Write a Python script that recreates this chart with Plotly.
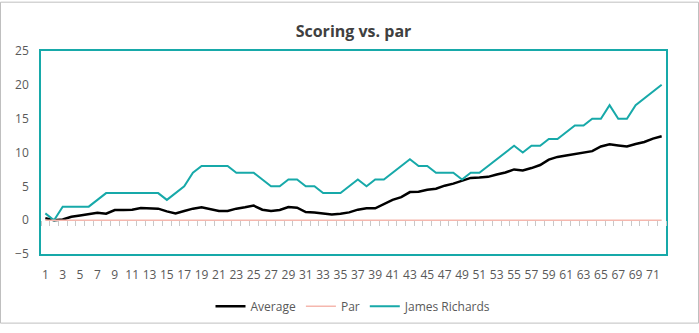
import plotly.graph_objects as go

# Rounds played (category labels along the x axis)
rounds = [str(i) for i in range(1, 73)]

# Cumulative scoring relative to par
average = [0.3, 0.0, 0.1, 0.5, 0.7, 0.85, 1.1, 0.95, 1.5, 1.5,
           1.55, 1.8, 1.7, 1.7, 1.3, 1.0, 1.35, 1.7, 1.9, 1.65,
           1.35, 1.35, 1.7, 1.9, 2.15, 1.55, 1.35, 1.5, 1.95, 1.85,
           1.2, 1.15, 0.95, 0.85, 0.95, 1.15, 1.55, 1.75, 1.75, 2.35,
           3.0, 3.4, 4.15, 4.2, 4.5, 4.65, 5.1, 5.4, 5.8, 6.25,
           6.3, 6.4, 6.75, 7.05, 7.5, 7.35, 7.7, 8.15, 8.95, 9.35,
           9.55, 9.75, 9.9, 10.2, 10.9, 11.2, 11.05, 10.9, 11.25, 11.55,
           12.05, 12.4]
par = [0] * 72
james_richards = [1, 0, 2, 2, 2, 2, 3, 4, 4, 4,
                  4, 4, 4, 4, 3, 4, 5, 7, 8, 8,
                  8, 8, 7, 7, 7, 6, 5, 5, 6, 6,
                  5, 5, 4, 4, 4, 5, 6, 5, 6, 6,
                  7, 8, 9, 8, 8, 7, 7, 7, 6, 7,
                  7, 8, 9, 10, 11, 10, 11, 11, 12, 12,
                  13, 14, 14, 15, 15, 17, 15, 15, 17, 18,
                  19, 20]

y_ticks = [-5, 0, 5, 10, 15, 20, 25]

TEAL = "#17A9A9"
PINK = "#F5B7AE"
LABEL = "#595959"
FONT = "Open Sans"

fig = go.Figure()
fig.add_trace(go.Scatter(x=rounds, y=average, name="Average", mode="lines",
                         line=dict(color="#000000", width=2.5)))
fig.add_trace(go.Scatter(x=rounds, y=par, name="Par", mode="lines",
                         line=dict(color=PINK, width=1.5), xaxis="x2"))
fig.add_trace(go.Scatter(x=rounds, y=james_richards, name="James Richards",
                         mode="lines", line=dict(color=TEAL, width=2)))

W, H = 699, 333
L, R, T, B = 41, 33, 51, 72
pw, ph = W - L - R, H - T - B

fig.update_layout(
    width=W, height=H,
    margin=dict(l=L, r=R, t=T, b=B),
    paper_bgcolor="white", plot_bgcolor="white",
    font=dict(family=FONT, size=12, color=LABEL),
    title=dict(text="<b>Scoring vs. par</b>", x=0.5, xanchor="center",
               xref="paper", y=1 - 31 / H, yanchor="middle",
               font=dict(family=FONT, size=16, color="#404040")),
    showlegend=True,
    legend=dict(orientation="h", x=0.5, xanchor="center",
                y=-54 / ph, yanchor="middle",
                font=dict(family=FONT, size=12, color=LABEL),
                itemwidth=30, tracegroupgap=0),
    xaxis=dict(type="category", range=[-0.5, 71.5], dtick=2, tick0=0,
               showgrid=False, zeroline=False, ticks="",
               showline=True, linecolor=TEAL, linewidth=1.5, mirror=True,
               ticklabelstandoff=9,
               tickfont=dict(family=FONT, size=12, color=LABEL)),
    # Tick marks sitting on the zero line, between categories
    xaxis2=dict(type="category", overlaying="x", anchor="free",
                position=1 / 6, range=[-0.5, 71.5], dtick=1, tick0=0,
                tickson="boundaries", ticks="outside", ticklen=5,
                tickcolor="#C8C8C8", tickwidth=1, showticklabels=False,
                showgrid=False, zeroline=False, showline=False),
    yaxis=dict(range=[-5, 25], tickvals=y_ticks, showgrid=False,
               zeroline=False, ticks="", showline=True, linecolor=TEAL,
               linewidth=1.5, mirror=True, ticklabelstandoff=8,
               tickfont=dict(family=FONT, size=12, color=LABEL)),
)

# Light frame around the whole chart
fig.add_shape(type="rect", xref="paper", yref="paper",
              x0=-(L - 0.5) / pw, x1=1 + (R - 0.5) / pw,
              y0=-(B - 0.5) / ph, y1=1 + (T - 0.5) / ph,
              line=dict(color="#BFBFBF", width=1), layer="below")

fig.write_html("out.html")
